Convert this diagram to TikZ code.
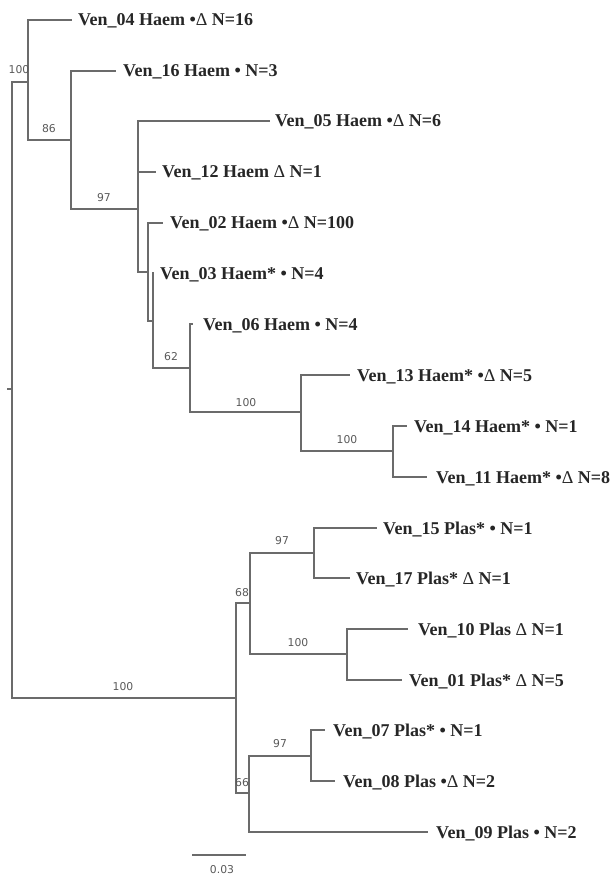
\documentclass[tikz,border=0pt]{standalone}
\usepackage{fontspec}
\setmainfont{Liberation Serif}
\newfontfamily\supfont{DejaVu Sans}
\newcommand{\tri}{{\mdseries Δ}}
\begin{document}
\begin{tikzpicture}[x=1pt,y=-1pt,
  br/.style={draw=black!58,line width=1.4pt},
  tip/.style={anchor=base west,inner sep=0pt,font=\bfseries\fontsize{18}{20}\selectfont,text=black!85},
  sup/.style={inner sep=0pt,font=\supfont\fontsize{10.8}{12}\selectfont,text=black!65}]
\useasboundingbox (0,0) rectangle (613,877);
% internal nodes
\coordinate (R) at (12,389);
\coordinate (S) at (7,389);
\coordinate (A) at (28,82);
\coordinate (B) at (71,140);
\coordinate (C) at (138,209);
\coordinate (D) at (148,272);
\coordinate (E) at (153,321);
\coordinate (F) at (190,368);
\coordinate (G) at (301,412);
\coordinate (H) at (393,451);
\coordinate (I) at (236,698);
\coordinate (J) at (250,603);
\coordinate (K) at (314,553);
\coordinate (L) at (347,654);
\coordinate (M) at (249,793);
\coordinate (N) at (311,756);
% tips
\coordinate (t04) at (72,20);
\coordinate (t16) at (116,71);
\coordinate (t05) at (270,121);
\coordinate (t12) at (156,172);
\coordinate (t02) at (163,223);
\coordinate (t03) at (154,273);
\coordinate (t06) at (193,324);
\coordinate (t13) at (350,375);
\coordinate (t14) at (407,426);
\coordinate (t11) at (427,477);
\coordinate (t15) at (377,528);
\coordinate (t17) at (350,578);
\coordinate (t10) at (408,629);
\coordinate (t01) at (402,680);
\coordinate (t07) at (325,730);
\coordinate (t08) at (335,781);
\coordinate (t09) at (428,832);
% branches
\draw[br] (S) -- (R);
\draw[br] (R) |- (A);
\draw[br] (R) |- (I);
\draw[br] (A) |- (t04);
\draw[br] (A) |- (B);
\draw[br] (B) |- (t16);
\draw[br] (B) |- (C);
\draw[br] (C) |- (t05);
\draw[br] (C) |- (t12);
\draw[br] (C) |- (D);
\draw[br] (D) |- (t02);
\draw[br] (D) |- (E);
\draw[br] (E) |- (t03);
\draw[br] (E) |- (F);
\draw[br] (F) |- (t06);
\draw[br] (F) |- (G);
\draw[br] (G) |- (t13);
\draw[br] (G) |- (H);
\draw[br] (H) |- (t14);
\draw[br] (H) |- (t11);
\draw[br] (I) |- (J);
\draw[br] (I) |- (M);
\draw[br] (J) |- (K);
\draw[br] (J) |- (L);
\draw[br] (K) |- (t15);
\draw[br] (K) |- (t17);
\draw[br] (L) |- (t10);
\draw[br] (L) |- (t01);
\draw[br] (M) |- (N);
\draw[br] (M) |- (t09);
\draw[br] (N) |- (t07);
\draw[br] (N) |- (t08);
% tip labels
\node[tip] (l04) at (78,26) {Ven\_04 Haem •\tri{} N=16};
\node[tip] (l16) at (123,77) {Ven\_16 Haem • N=3};
\node[tip] (l05) at (275,127) {Ven\_05 Haem •\tri{} N=6};
\node[tip] (l12) at (162,178) {Ven\_12 Haem \tri{} N=1};
\node[tip] (l02) at (170,229) {Ven\_02 Haem •\tri{} N=100};
\node[tip] (l03) at (160,279) {Ven\_03 Haem* • N=4};
\node[tip] (l06) at (203,330) {Ven\_06 Haem • N=4};
\node[tip] (l13) at (357,381) {Ven\_13 Haem* •\tri{} N=5};
\node[tip] (l14) at (414,432) {Ven\_14 Haem* • N=1};
\node[tip] (l11) at (436,483) {Ven\_11 Haem* •\tri{} N=8};
\node[tip] (l15) at (383,534) {Ven\_15 Plas* • N=1};
\node[tip] (l17) at (356,584) {Ven\_17 Plas* \tri{} N=1};
\node[tip] (l10) at (418,635) {Ven\_10 Plas \tri{} N=1};
\node[tip] (l01) at (409,686) {Ven\_01 Plas* \tri{} N=5};
\node[tip] (l07) at (333,736) {Ven\_07 Plas* • N=1};
\node[tip] (l08) at (343,787) {Ven\_08 Plas •\tri{} N=2};
\node[tip] (l09) at (436,838) {Ven\_09 Plas • N=2};
% support values
\node[sup] (s1) at (19,70) {100};
\node[sup] (s2) at (49,129) {86};
\node[sup] (s3) at (104,198) {97};
\node[sup] (s4) at (171,357) {62};
\node[sup] (s5) at (246,403) {100};
\node[sup] (s6) at (347,440) {100};
\node[sup] (s7) at (123,687) {100};
\node[sup] (s8) at (242,593) {68};
\node[sup] (s9) at (282,541) {97};
\node[sup] (s10) at (298,643) {100};
\node[sup] (s11) at (242,783) {66};
\node[sup] (s12) at (280,744) {97};
% scale bar
\coordinate (sb1) at (192,855);
\coordinate (sb2) at (246,855);
\draw[br] (sb1) -- (sb2);
\node[sup] (sbl) at (222,870) {0.03};
\end{tikzpicture}
\end{document}
